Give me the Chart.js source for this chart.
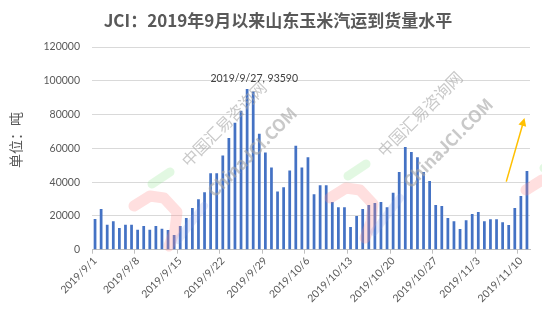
<!DOCTYPE html>
<html><head><meta charset="utf-8">
<script src="https://cdn.jsdelivr.net/npm/chart.js@4.4.1/dist/chart.umd.min.js"></script>
<style>html,body{margin:0;padding:0;background:#fff}#wrap{width:542px;height:309px}</style>
</head><body><div id="wrap"><canvas id="c" width="542" height="309"></canvas></div>
<script>
const chartTitle = "JCI：2019年9月以来山东玉米汽运到货量水平";
const yAxisTitle = "单位：吨";
// categories: daily dates 2019/9/1 .. 2019/11/11
const categories = [];
(function(){ const months=[[9,30],[10,31],[11,11]]; for(const [m,n] of months){ for(let d=1; d<=n; d++) categories.push("2019/"+m+"/"+d); } })();
const tickLabels = ["2019/9/1","2019/9/8","2019/9/15","2019/9/22","2019/9/29","2019/10/6","2019/10/13","2019/10/20","2019/10/27","2019/11/3","2019/11/10"];
const arrivals = [
 18200,24100,14700,16900,12900,14700,14700,11800,14100,11800,
 14100,12400,11700,8700,14000,18800,24700,29900,34000,45200,
 45200,55700,66200,75100,82200,95100,93590,68700,57500,48600,
 34500,36900,46900,61600,48600,54700,32900,38200,38200,28200,
 25200,25200,13400,19900,24100,26500,27600,28200,25200,33700,
 46000,60800,57800,54800,46000,40700,26400,25800,18700,16900,
 12200,17500,21100,22300,16900,18100,18100,16300,14600,24700,
 31800,46600
];
const yTicks = [0,20000,40000,60000,80000,100000,120000];
const annotatedDate = "2019/9/27";

const decor = {
  id:'decor',
  afterDatasetsDraw(chart){
    const c = chart.ctx;
    // watermark logos
    const logo = (ox, oy) => {
      c.save(); c.translate(ox, oy); c.lineCap='round'; c.lineJoin='round';
      c.strokeStyle='rgba(150,230,150,0.28)'; c.lineWidth=9;
      c.beginPath(); c.moveTo(152,184); c.lineTo(170,172); c.stroke();
      c.strokeStyle='rgba(255,140,140,0.28)'; c.lineWidth=11;
      c.beginPath(); c.moveTo(134,206); c.lineTo(150,196); c.lineTo(164,198); c.lineTo(177,212); c.lineTo(175,230); c.lineTo(169,246); c.stroke();
      c.strokeStyle='rgba(130,150,230,0.2)'; c.lineWidth=8;
      c.beginPath(); c.moveTo(178,240); c.lineTo(204,206); c.stroke();
      c.restore();
    };
    logo(0,0); logo(196,-8); logo(392,-16);
    const wm = (x,y,t,size,weight) => {
      c.save(); c.translate(x,y); c.rotate(-Math.PI/4);
      c.font = weight+' '+size+'px "Noto Sans CJK SC", Lato, sans-serif';
      c.fillStyle='rgba(165,165,165,0.6)'; c.textAlign='center'; c.textBaseline='middle';
      c.fillText(t,0,0); c.restore();
    };
    wm(224,124,"中国汇易咨询网",16,'normal'); wm(252,152,"ChinaJCI.COM",17,'bold');
    wm(420,114,"中国汇易咨询网",16,'normal'); wm(448,143,"ChinaJCI.COM",17,'bold');
    // data label
    const meta = chart.getDatasetMeta(0);
    const idx = categories.indexOf(annotatedDate);
    const bar = meta.data[idx];
    c.save(); c.font='10.5px Lato, "Noto Sans", sans-serif'; c.fillStyle='#404040'; c.textAlign='center'; c.textBaseline='middle';
    c.fillText(annotatedDate+", "+arrivals[idx], bar.x+1, bar.y-13); c.restore();
    // arrow annotation
    const xs = chart.scales.x, ys = chart.scales.y;
    const x1 = xs.getPixelForValue(67.6), y1 = ys.getPixelForValue(40300);
    const x2 = xs.getPixelForValue(70.6), y2 = ys.getPixelForValue(78000);
    c.save(); c.strokeStyle='#FFC000'; c.fillStyle='#FFC000'; c.lineWidth=1.5;
    const ang = Math.atan2(y2-y1, x2-x1);
    c.beginPath(); c.moveTo(x1,y1); c.lineTo(x2-6*Math.cos(ang), y2-6*Math.sin(ang)); c.stroke();
    c.beginPath(); c.moveTo(x2,y2);
    c.lineTo(x2-8*Math.cos(ang)+4*Math.sin(ang), y2-8*Math.sin(ang)-4*Math.cos(ang));
    c.lineTo(x2-8*Math.cos(ang)-4*Math.sin(ang), y2-8*Math.sin(ang)+4*Math.cos(ang));
    c.closePath(); c.fill(); c.restore();
    // title
    c.save(); c.font='bold 17px "Noto Sans CJK SC", sans-serif'; c.fillStyle='#595959'; c.textAlign='center'; c.textBaseline='middle';
    c.fillText(chartTitle, 278, 21); c.restore();
    // y axis title
    c.save(); c.translate(16,140); c.rotate(-Math.PI/2);
    c.font='14px "Noto Sans CJK SC", sans-serif'; c.fillStyle='#595959'; c.textAlign='center'; c.textBaseline='middle';
    c.fillText(yAxisTitle,0,0); c.restore();
  }
};

new Chart(document.getElementById('c').getContext('2d'), {
  type:'bar',
  data:{ labels:categories, datasets:[{ data:arrivals, backgroundColor:'#4472C4', barPercentage:0.45, categoryPercentage:1 }] },
  options:{
    responsive:false, animation:false, devicePixelRatio:1,
    layout:{ padding:{ top:47, right:12, left:0, bottom:0 } },
    plugins:{ legend:{display:false}, tooltip:{enabled:false}, title:{display:false} },
    scales:{
      x:{
        offset:true,
        grid:{ display:true, drawOnChartArea:false, drawTicks:true, tickLength:4, offset:true,
               color:(ctx)=> (ctx.index%7===0 && ctx.index<categories.length) ? '#bfbfbf' : 'rgba(0,0,0,0)' },
        border:{ display:true, color:'#bfbfbf' },
        ticks:{ autoSkip:false, maxRotation:45, minRotation:45, padding:1, color:'#595959',
                font:{ family:'Lato', size:10.5 },
                callback:function(v){ const l=this.getLabelForValue(v); return tickLabels.includes(l)?l:''; } },
        afterFit:(s)=>{ s.height = 59.3; }
      },
      y:{
        min:0, max:120000,
        afterBuildTicks:(s)=>{ s.ticks = yTicks.map(v=>({value:v})); },
        ticks:{ color:'#595959', padding:12, font:{ family:'Lato', size:10.5 }, callback:(v)=>String(v) },
        grid:{ color:'#d9d9d9', drawTicks:false },
        border:{ display:false },
        afterFit:(s)=>{ s.width = 92; }
      }
    }
  },
  plugins:[decor]
});
</script></body></html>
